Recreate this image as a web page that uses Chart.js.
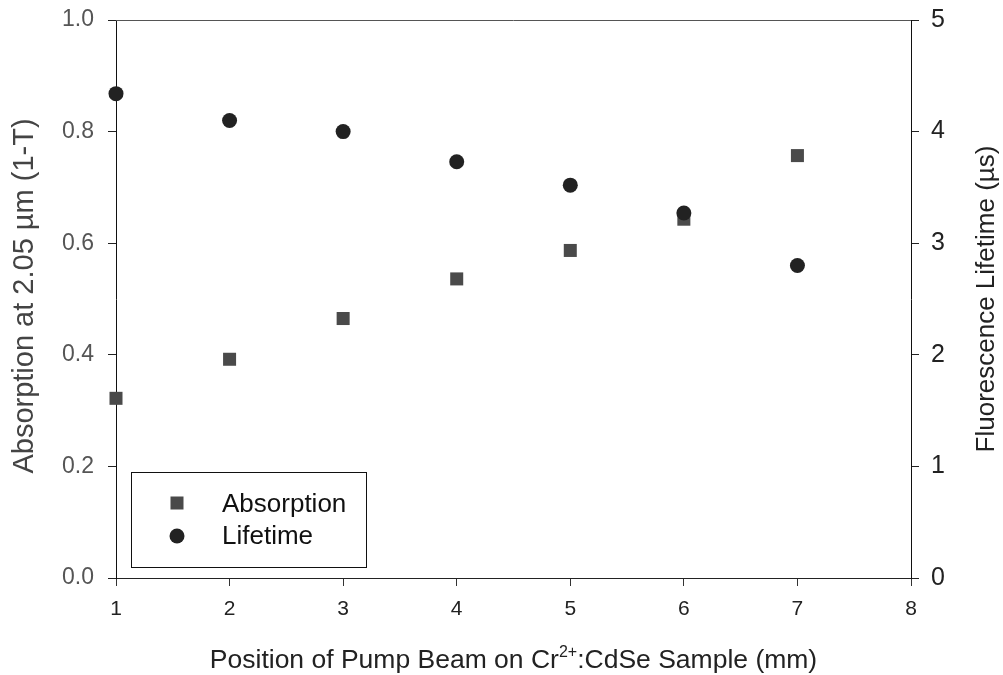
<!DOCTYPE html>
<html>
<head>
<meta charset="utf-8">
<script src="https://cdn.jsdelivr.net/npm/chart.js@4.4.1/dist/chart.umd.min.js"></script>
<style>
  html, body { margin: 0; padding: 0; background: #fff; }
  #wrap { width: 1003px; height: 675px; }
</style>
</head>
<body>
<div id="wrap"><canvas id="c" width="1003" height="675"></canvas></div>
<script>
// ---- data ----
const positions = [1, 2, 3, 4, 5, 6, 7];
const absorption = [0.322, 0.392, 0.465, 0.536, 0.587, 0.643, 0.757];
const lifetime = [4.34, 4.10, 4.00, 3.73, 3.52, 3.27, 2.80];
const xTicks = [1, 2, 3, 4, 5, 6, 7, 8];
const yLeftTicks = [0.0, 0.2, 0.4, 0.6, 0.8, 1.0];
const yRightTicks = [0, 1, 2, 3, 4, 5];
const seriesNames = ['Absorption', 'Lifetime'];
const xTitleParts = ['Position of Pump Beam on Cr', '2+', ':CdSe Sample (mm)'];
const yLeftTitle = 'Absorption at 2.05 \u00b5m (1-T)';
const yRightTitle = 'Fluorescence Lifetime (\u00b5s)';

const FONT = "'Liberation Sans', Arial, Helvetica, sans-serif";
const SQ_COLOR = '#4a4a4a';
const CI_COLOR = '#222222';

const toPts = (xs, ys) => xs.map((x, i) => ({ x: x, y: ys[i] }));

const titlesAndLegend = {
  id: 'titlesAndLegend',
  afterDraw(chart) {
    const ctx = chart.ctx;
    const ca = chart.chartArea;
    ctx.save();
    // top border
    ctx.strokeStyle = '#555';
    ctx.lineWidth = 1;
    ctx.beginPath();
    ctx.moveTo(ca.left, Math.round(ca.top) + 0.5);
    ctx.lineTo(ca.right, Math.round(ca.top) + 0.5);
    ctx.stroke();

    // left title
    ctx.fillStyle = '#444';
    ctx.font = '29px ' + FONT;
    ctx.textAlign = 'center';
    ctx.textBaseline = 'alphabetic';
    ctx.save();
    ctx.translate(33, (ca.top + ca.bottom) / 2 - 3);
    ctx.rotate(-Math.PI / 2);
    ctx.fillText(yLeftTitle, 0, 0);
    ctx.restore();

    // right title (reads bottom to top)
    ctx.fillStyle = '#222';
    ctx.font = '26px ' + FONT;
    ctx.save();
    ctx.translate(994, (ca.top + ca.bottom) / 2);
    ctx.rotate(-Math.PI / 2);
    ctx.fillText(yRightTitle, 0, 0);
    ctx.restore();

    // x title with superscript
    const big = '26.5px ' + FONT, small = '16px ' + FONT;
    ctx.font = big;
    const w1 = ctx.measureText(xTitleParts[0]).width;
    const w3 = ctx.measureText(xTitleParts[2]).width;
    ctx.font = small;
    const w2 = ctx.measureText(xTitleParts[1]).width;
    const total = w1 + w2 + w3;
    let x0 = (ca.left + ca.right) / 2 - total / 2;
    const base = 668;
    ctx.textAlign = 'left';
    ctx.fillStyle = '#222';
    ctx.font = big;
    ctx.fillText(xTitleParts[0], x0, base);
    ctx.font = small;
    ctx.fillText(xTitleParts[1], x0 + w1, base - 11);
    ctx.font = big;
    ctx.fillText(xTitleParts[2], x0 + w1 + w2, base);

    // legend box
    const lx = 131, ly = 472, lw = 235, lh = 95;
    ctx.strokeStyle = '#111';
    ctx.lineWidth = 1;
    ctx.strokeRect(lx + 0.5, ly + 0.5, lw, lh);
    ctx.fillStyle = SQ_COLOR;
    ctx.fillRect(177 - 6.5, 503 - 6.5, 13, 13);
    ctx.fillStyle = CI_COLOR;
    ctx.beginPath();
    ctx.arc(177, 536, 7.5, 0, Math.PI * 2);
    ctx.fill();
    ctx.fillStyle = '#111';
    ctx.font = '26px ' + FONT;
    ctx.textAlign = 'left';
    ctx.fillText(seriesNames[0], 222, 512);
    ctx.fillText(seriesNames[1], 222, 544);
    ctx.restore();
  }
};

const fitY = (w) => (s) => { s.width = w; s.paddingTop = 0; s.paddingBottom = 0; };

new Chart(document.getElementById('c'), {
  type: 'scatter',
  data: {
    datasets: [
      {
        label: seriesNames[0],
        data: toPts(positions, absorption),
        yAxisID: 'y',
        pointStyle: 'rect',
        pointRadius: 9.2,
        pointHoverRadius: 9.2,
        backgroundColor: SQ_COLOR,
        borderWidth: 0,
        clip: false,
        order: 1
      },
      {
        label: seriesNames[1],
        data: toPts(positions, lifetime),
        yAxisID: 'y1',
        pointStyle: 'circle',
        pointRadius: 7.5,
        pointHoverRadius: 7.5,
        backgroundColor: CI_COLOR,
        borderWidth: 0,
        clip: false,
        order: 0
      }
    ]
  },
  options: {
    responsive: false,
    animation: false,
    layout: { padding: { top: 20, left: 0, right: 0, bottom: 0 } },
    plugins: { legend: { display: false }, tooltip: { enabled: false } },
    scales: {
      x: {
        type: 'linear',
        min: xTicks[0],
        max: xTicks[xTicks.length - 1],
        afterBuildTicks: (s) => { s.ticks = xTicks.map(v => ({ value: v })); },
        afterFit: (s) => { s.height = 97; s.paddingLeft = 0; s.paddingRight = 0; },
        grid: { drawOnChartArea: false, drawTicks: true, tickLength: 8, color: '#333' },
        border: { display: true, color: '#222' },
        ticks: { color: '#222', font: { family: FONT, size: 21 }, padding: 11, maxRotation: 0, autoSkip: false }
      },
      y: {
        type: 'linear',
        position: 'left',
        min: 0,
        max: 1,
        afterBuildTicks: (s) => { s.ticks = yLeftTicks.map(v => ({ value: v })); },
        afterFit: fitY(116),
        grid: { drawOnChartArea: false, drawTicks: true, tickLength: 8, color: '#222' },
        border: { display: true, color: '#111' },
        ticks: { color: '#555', font: { family: FONT, size: 23 }, padding: 14,
                 callback: (v) => Number(v).toFixed(1) }
      },
      y1: {
        type: 'linear',
        position: 'right',
        min: 0,
        max: 5,
        afterBuildTicks: (s) => { s.ticks = yRightTicks.map(v => ({ value: v })); },
        afterFit: fitY(92),
        grid: { drawOnChartArea: false, drawTicks: true, tickLength: 8, color: '#222' },
        border: { display: true, color: '#111' },
        ticks: { color: '#222', font: { family: FONT, size: 25 }, padding: 12,
                 callback: (v) => String(v) }
      }
    }
  },
  plugins: [titlesAndLegend]
});
</script>
</body>
</html>
